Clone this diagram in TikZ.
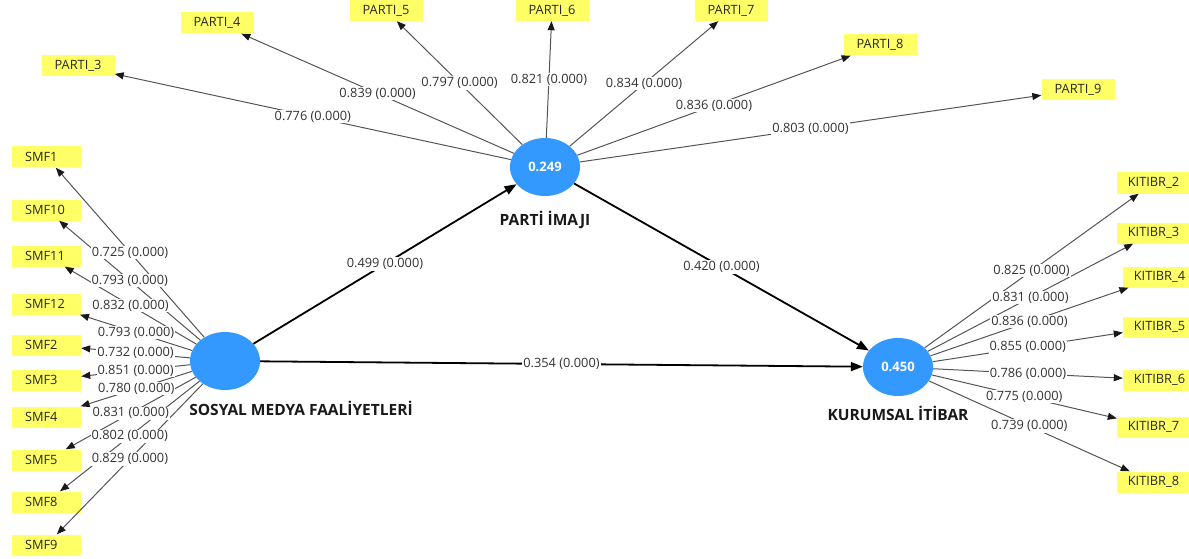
\documentclass[tikz,border=0pt]{standalone}
\usepackage{fontspec}
\setmainfont{Open Sans}
\usetikzlibrary{arrows.meta,shapes.geometric}
\definecolor{lvblue}{RGB}{51,153,255}
\definecolor{indyel}{RGB}{255,255,102}
\definecolor{indline}{RGB}{85,85,85}
\begin{document}
\begin{tikzpicture}[x=1pt,y=-1pt,
  lv/.style={ellipse, fill=lvblue, minimum width=70pt, minimum height=58pt, inner sep=0pt, text=white, font=\fontsize{13}{15}\selectfont\bfseries},
  lvname/.style={font=\fontsize{15.5}{18}\selectfont\bfseries, text=black!90, inner sep=0pt},
  ind/.style={fill=indyel, minimum height=21pt, minimum width=73pt, inner sep=0pt, font=\fontsize{12.8}{15}\selectfont, text=black!85},
  smfbox/.style={ind, minimum width=69pt, text width=43pt, align=left},
  load/.style={draw=indline, line width=1pt, -{Triangle[length=9pt,width=7pt,color=black!90]}},
  struct/.style={draw=black, line width=1.8pt, -{Triangle[length=12pt,width=9pt]}},
  lab/.style={fill=white, inner sep=1pt, font=\fontsize{12.8}{15}\selectfont, text=black!80}
]
\useasboundingbox (0,0) rectangle (1189,559);

% latent variables
\node[lv] (S) at (225,361) {};
\node[lv] (P) at (545,167) {0.249};
\node[lv] (K) at (898,367) {0.450};
\node[lvname] (Sn) at (301,408) {SOSYAL MEDYA FAALİYETLERİ};
\node[lvname] (Pn) at (545,220) {PARTİ İMAJI};
\node[lvname] (Kn) at (898,413) {KURUMSAL İTİBAR};

% indicators of PARTI IMAJI
\node[ind] (P3) at (78,66) {PARTI\_3};
\node[ind] (P4) at (217,23) {PARTI\_4};
\node[ind] (P5) at (386,10.5) {PARTI\_5};
\node[ind] (P6) at (552,10.5) {PARTI\_6};
\node[ind] (P7) at (731,10.5) {PARTI\_7};
\node[ind] (P8) at (880,45) {PARTI\_8};
\node[ind] (P9) at (1078,90) {PARTI\_9};

% indicators of SOSYAL MEDYA
\foreach \n/\y in {1/157,10/210,11/256,12/304,2/345,3/380,4/417,5/460,8/502,9/545}
  \node[smfbox] (SMF\n) at (46.5,\y) {SMF\n};

% indicators of KURUMSAL ITIBAR
\node[ind] (K2) at (1153.5,183) {KITIBR\_2};
\node[ind] (K3) at (1153.5,233) {KITIBR\_3};
\node[ind] (K4) at (1159.5,277) {KITIBR\_4};
\node[ind] (K5) at (1159.5,327) {KITIBR\_5};
\node[ind] (K6) at (1159.5,380) {KITIBR\_6};
\node[ind] (K7) at (1153.5,427) {KITIBR\_7};
\node[ind] (K8) at (1153.5,482) {KITIBR\_8};

% loading lines
\foreach \t in {P3,P4,P5,P6,P7,P8,P9} \draw[load] (P) -- (\t);
\foreach \t in {SMF1,SMF10,SMF11,SMF12,SMF2,SMF3,SMF4,SMF5,SMF8,SMF9} \draw[load] (S) -- (\t);
\foreach \t in {K2,K3,K4,K5,K6,K7,K8} \draw[load] (K) -- (\t);

% structural paths
\draw[struct] (S) -- (P);
\draw[struct] (S) -- (K);
\draw[struct] (P) -- (K);

% labels on top
\foreach \t/\v in {P3/0.776,P4/0.839,P5/0.797,P6/0.821,P7/0.834,P8/0.836,P9/0.803}
  \path (P) -- node[lab] {\v\ (0.000)} (\t);
\foreach \t/\v in {SMF1/0.725,SMF10/0.793,SMF11/0.832,SMF12/0.793,SMF2/0.732,SMF3/0.851,SMF4/0.780,SMF5/0.831,SMF8/0.802,SMF9/0.829}
  \path (S) -- node[lab] {\v\ (0.000)} (\t);
\foreach \t/\v in {K2/0.825,K3/0.831,K4/0.836,K5/0.855,K6/0.786,K7/0.775,K8/0.739}
  \path (K) -- node[lab] {\v\ (0.000)} (\t);
\path (S) -- node[lab] {0.499 (0.000)} (P);
\path (S) -- node[lab] {0.354 (0.000)} (K);
\path (P) -- node[lab] {0.420 (0.000)} (K);
\end{tikzpicture}
\end{document}
